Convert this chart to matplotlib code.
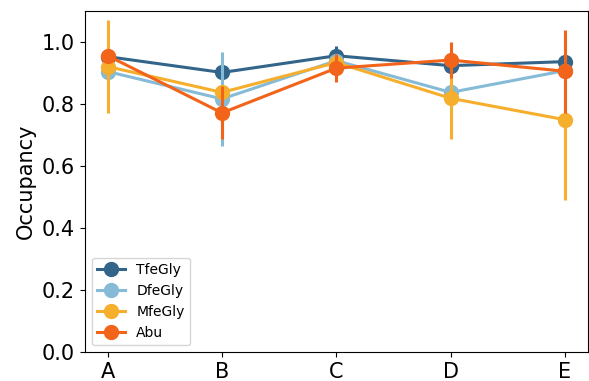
import matplotlib
matplotlib.use("Agg")
import matplotlib.pyplot as plt
import numpy as np

# sites and occupancy per residue type
sites = ["A", "B", "C", "D", "E"]
names = ["TfeGly", "DfeGly", "MfeGly", "Abu"]
colors = ["#33658A", "#86BBD8", "#F6AE2D", "#F26419"]

tfegly = [0.952, 0.901, 0.955, 0.923, 0.936]
dfegly = [0.904, 0.816, 0.939, 0.837, 0.907]
mfegly = [0.920, 0.837, 0.933, 0.818, 0.749]
abu = [0.955, 0.771, 0.915, 0.941, 0.905]

tfegly_err = [0.01, 0.01, 0.03, 0.02, 0.01]
dfegly_err = [0.01, 0.15, 0.02, 0.01, 0.01]
mfegly_err = [0.15, 0.02, 0.01, 0.13, 0.26]
abu_err = [0.02, 0.085, 0.045, 0.057, 0.134]

values = [tfegly, dfegly, mfegly, abu]
errors = [tfegly_err, dfegly_err, mfegly_err, abu_err]

fig, ax = plt.subplots(figsize=(5.89, 3.81), dpi=100)
fig.subplots_adjust(left=0.144, right=0.998, top=0.972, bottom=0.075)

x = np.arange(len(sites))
for i, (name, col) in enumerate(zip(names, colors)):
    ax.errorbar(x, values[i], yerr=errors[i], color=col, lw=2.2,
                marker="o", markersize=10, elinewidth=2.2, capsize=0,
                label=name, zorder=2 + i)

ax.set_xticks(x)
ax.set_xticklabels(sites)
ax.set_ylim(0, 1.1)
ax.set_ylabel("Occupancy", fontsize=15)
ax.tick_params(labelsize=15)
ax.legend(loc="lower left", fontsize=10)

plt.savefig("out.png")
